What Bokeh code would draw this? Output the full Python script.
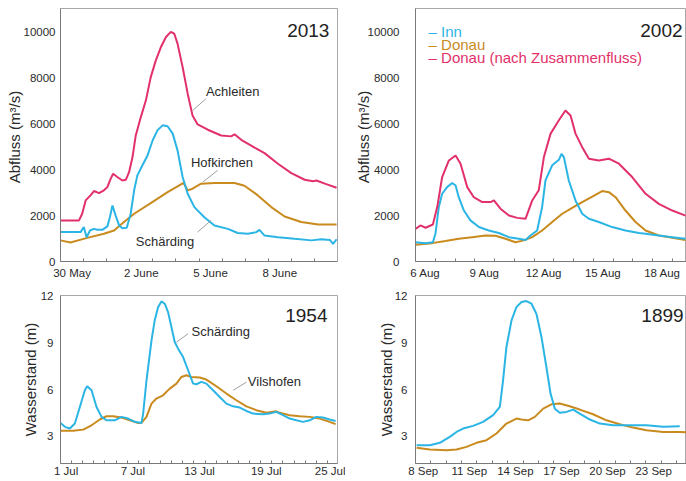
from bokeh.plotting import figure
from bokeh.models import Range1d, FixedTicker
from bokeh.layouts import row, column
from bokeh.core.properties import value
from bokeh.embed import file_html
from bokeh.resources import INLINE

FONT = "Liberation Sans"
RED = "#E2306A"
BLUE = "#2BB5E5"
GOLD = "#C98A1E"
TXT = "#2a2a2a"

# ---------------- 2013 (days since 30 May 00:00, discharge m3/s) ----------------
t13_achleiten = [0, 0.80, 0.94, 1.09, 1.30, 1.45, 1.67, 1.88, 2.03, 2.17, 2.28, 2.46, 2.68, 2.83, 2.97,
                 3.12, 3.26, 3.48, 3.70, 3.91, 4.13, 4.35, 4.57, 4.78, 4.93, 5.07, 5.29, 5.51, 5.72,
                 5.94, 6.38, 6.96, 7.39, 7.54, 7.83, 8.41, 8.84, 9.42, 10.00, 10.58, 10.94, 11.09,
                 11.45, 11.96]
q13_achleiten = [1790, 1790, 2080, 2660, 2880, 3070, 2980, 3100, 3240, 3600, 3820, 3680, 3530, 3560, 3890,
                 4550, 5490, 6290, 7020, 8030, 8760, 9340, 9780, 10000, 9920, 9490, 8470, 7310, 6360,
                 5970, 5740, 5490, 5450, 5540, 5300, 4960, 4720, 4260, 3850, 3560, 3500, 3530,
                 3390, 3210]
t13_schaerding = [0, 0.87, 1.01, 1.13, 1.28, 1.45, 1.59, 1.81, 2.03, 2.14, 2.25, 2.39, 2.54, 2.68, 2.87,
                  3.04, 3.19, 3.33, 3.55, 3.77, 3.99, 4.20, 4.42, 4.64, 4.86, 5.07, 5.29, 5.51, 5.80,
                  6.23, 6.67, 7.25, 7.68, 8.12, 8.48, 8.62, 8.84, 9.42, 10.14, 10.87, 11.30, 11.67,
                  11.81, 11.96]
q13_schaerding = [1280, 1280, 1500, 1060, 1350, 1420, 1380, 1380, 1530, 1930, 2440, 2000, 1570, 1450, 1470,
                  2080, 3100, 3750, 4190, 4620, 5270, 5710, 5930, 5890, 5570, 4840, 3680, 2950, 2370,
                  1930, 1570, 1420, 1240, 1210, 1280, 1380, 1130, 1060, 990, 920, 970, 940,
                  770, 970]
t13_hofkirchen = [0, 0.43, 1.16, 1.88, 2.32, 2.75, 3.19, 3.91, 4.64, 5.07, 5.33, 5.51, 5.72, 6.09, 6.67,
                  7.54, 7.97, 8.55, 9.13, 9.71, 10.43, 11.16, 11.96]
q13_hofkirchen = [920, 830, 1030, 1210, 1350, 1720, 2080, 2540, 3020, 3270, 3420, 3100, 3170, 3390, 3420,
                  3420, 3300, 2880, 2370, 1960, 1720, 1610, 1610]
ticks13 = [0.5, 3.5, 6.5, 9.5]
labels13 = ["30 May", "2 June", "5 June", "8 June"]

# ---------------- 2002 (days since 6 Aug 00:00) ----------------
t02_inn = [0, 0.51, 0.88, 1.01, 1.18, 1.35, 1.60, 1.86, 2.03, 2.19, 2.45, 2.78, 3.21, 3.71, 4.22, 4.73,
           5.23, 5.57, 5.82, 6.16, 6.41, 6.58, 6.92, 7.26, 7.39, 7.51, 7.76, 8.10, 8.44, 8.78, 9.28,
           9.96, 10.63, 11.31, 11.65, 12.32, 13.00, 13.67]
q02_inn = [840, 800, 840, 1210, 2370, 2950, 3240, 3420, 3310, 2800, 2220, 1790, 1500, 1350, 1240, 1060,
           990, 940, 1130, 1350, 2370, 3530, 4190, 4430, 4690, 4550, 3530, 2660, 2080, 1860, 1720,
           1500, 1350, 1240, 1210, 1130, 1060, 990]
t02_donau = [0, 0.84, 1.52, 2.19, 2.87, 3.54, 4.05, 4.56, 5.06, 5.49, 5.91, 6.41, 6.92, 7.43, 7.93, 8.44,
             8.95, 9.45, 9.79, 10.13, 10.63, 11.14, 11.65, 12.32, 13.00, 13.67]
q02_donau = [730, 800, 890, 990, 1060, 1130, 1120, 990, 840, 920, 1060, 1350, 1720, 2080, 2340, 2590,
             2830, 3070, 3020, 2800, 2220, 1720, 1350, 1130, 1030, 940]
t02_nach = [0, 0.25, 0.51, 0.88, 1.10, 1.35, 1.69, 2.03, 2.28, 2.62, 2.95, 3.38, 3.80, 3.97, 4.30, 4.73,
            5.15, 5.57, 5.91, 6.24, 6.50, 6.84, 7.26, 7.59, 7.85, 8.10, 8.44, 8.78, 9.28, 9.79, 10.30,
            10.97, 11.65, 12.32, 13.00, 13.67]
q02_nach = [1420, 1570, 1470, 1610, 2370, 3680, 4400, 4620, 4260, 3240, 2800, 2590, 2590, 2660, 2300, 2000,
            1900, 1860, 2660, 3100, 4550, 5570, 6150, 6580, 6360, 5570, 4980, 4480, 4400, 4480, 4260,
            3680, 2950, 2510, 2220, 2000]
ticks02 = [0.5, 3.5, 6.5, 9.5, 12.5]
labels02 = ["6 Aug", "9 Aug", "12 Aug", "15 Aug", "18 Aug"]

# ---------------- 1954 (days since 1 Jul 00:00, water level m) ----------------
t54_schaerding = [0, 0.40, 0.84, 1.29, 1.74, 2.19, 2.40, 2.79, 3.24, 3.69, 4.13, 4.88, 5.48, 6.08, 6.68,
                  7.28, 7.43, 7.73, 8.18, 8.47, 8.77, 9.07, 9.37, 9.67, 9.97, 10.27, 10.57, 11.02, 11.47,
                  11.92, 12.22, 12.66, 13.11, 13.71, 14.31, 14.91, 15.51, 16.11, 16.71, 17.31, 18.21,
                  18.80, 19.40, 20.00, 20.60, 21.20, 21.80, 22.40, 23.00, 23.59, 24.19, 24.73]
h54_schaerding = [3.86, 3.61, 3.50, 3.82, 4.89, 5.96, 6.22, 5.96, 4.89, 4.25, 4.03, 4.03, 4.25, 4.14, 3.93,
                  3.86, 4.46, 6.60, 9.17, 10.46, 11.31, 11.68, 11.53, 10.99, 10.03, 9.07, 8.64, 8.10, 7.25,
                  6.39, 6.35, 6.50, 6.39, 5.96, 5.53, 5.10, 4.93, 4.85, 4.63, 4.46, 4.42,
                  4.46, 4.57, 4.36, 4.14, 4.03, 3.93, 4.03, 4.25, 4.21, 4.08, 3.99]
t54_vilshofen = [0, 1.14, 2.04, 2.79, 3.53, 4.13, 4.73, 5.48, 6.23, 6.98, 7.28, 7.73, 8.18, 8.62, 9.22,
                 9.82, 10.42, 10.87, 11.32, 11.77, 12.52, 13.11, 14.01, 14.91, 15.81, 16.71, 17.61,
                 18.50, 19.40, 19.70, 20.60, 21.50, 22.40, 23.29, 24.19, 24.73]
h54_vilshofen = [3.35, 3.35, 3.43, 3.71, 4.08, 4.29, 4.29, 4.21, 4.03, 3.86, 3.86, 4.25, 5.10, 5.43, 5.64,
                 6.07, 6.39, 6.82, 6.93, 6.82, 6.78, 6.65, 6.22, 5.75, 5.32, 4.93, 4.68,
                 4.51, 4.61, 4.51, 4.36, 4.29, 4.25, 4.14, 3.93, 3.78]
ticks54 = [0.5, 6.5, 12.5, 18.5, 24.5]
labels54 = ["1 Jul", "7 Jul", "13 Jul", "19 Jul", "25 Jul"]

# ---------------- 1899 (days since 8 Sep 00:00) ----------------
t99_blue = [0.07, 0.93, 1.58, 2.23, 2.67, 3.10, 3.75, 4.40, 5.05, 5.49, 5.70, 5.92, 6.25, 6.57, 6.90,
            7.22, 7.55, 7.87, 8.20, 8.52, 8.79, 9.07, 9.39, 9.83, 10.26, 10.69, 11.35, 12.00, 12.86,
            13.95, 15.03, 16.12, 17.20]
h99_blue = [2.43, 2.43, 2.58, 2.96, 3.28, 3.50, 3.67, 3.93, 4.36, 4.89, 6.60, 8.75, 10.46, 11.31, 11.64,
            11.70, 11.53, 10.89, 9.39, 7.46, 5.75, 4.78, 4.51, 4.57, 4.72, 4.46, 4.08, 3.82, 3.71,
            3.71, 3.71, 3.61, 3.65]
t99_gold = [0.07, 0.93, 2.02, 2.67, 3.32, 3.97, 4.62, 5.27, 5.92, 6.57, 6.90, 7.33, 7.77, 8.31, 8.85,
            9.39, 10.04, 10.69, 11.56, 12.43, 13.30, 14.16, 15.03, 16.12, 17.20, 17.64]
h99_gold = [2.26, 2.15, 2.11, 2.15, 2.32, 2.58, 2.75, 3.18, 3.82, 4.14, 4.08, 4.03, 4.25, 4.78, 5.06,
            5.11, 4.93, 4.72, 4.42, 4.03, 3.78, 3.56, 3.39, 3.28, 3.28, 3.26]
ticks99 = [0.5, 3.5, 6.5, 9.5, 12.5, 15.5]
labels99 = ["8 Sep", "11 Sep", "14 Sep", "17 Sep", "20 Sep", "23 Sep"]

q_ticks = [0, 2000, 4000, 6000, 8000, 10000]
h_ticks = [3, 6, 9, 12]


def make_fig(width, height, xr, yr, bl, br, bt, bb, xticks, xlabels, ndays, yticks,
             ytitle, ylab_standoff, ytitle_standoff, xlab_standoff):
    p = figure(width=width, height=height, x_range=Range1d(*xr), y_range=Range1d(*yr),
               min_border_left=bl, min_border_right=br, min_border_top=bt, min_border_bottom=bb,
               output_backend="svg", toolbar_location=None)
    p.xgrid.visible = False
    p.ygrid.visible = False
    p.outline_line_color = "#a8a8a8"
    p.outline_line_width = 1
    p.background_fill_color = "white"
    p.border_fill_color = "white"
    xa = p.xaxis[0]
    xa.ticker = FixedTicker(ticks=xticks, minor_ticks=list(range(1, ndays + 1)))
    xa.major_label_overrides = {t: l for t, l in zip(xticks, xlabels)}
    xa.major_tick_in = 0
    xa.major_tick_out = 0
    xa.minor_tick_in = 3
    xa.minor_tick_out = 0
    xa.minor_tick_line_color = "#7a7a7a"
    xa.axis_line_color = "#7a7a7a"
    xa.major_label_text_font = FONT
    xa.major_label_text_font_size = "11.5px"
    xa.major_label_text_color = TXT
    xa.major_label_standoff = xlab_standoff
    ya = p.yaxis[0]
    ya.ticker = FixedTicker(ticks=yticks)
    ya.major_tick_in = 0
    ya.major_tick_out = 0
    ya.minor_tick_line_color = None
    ya.axis_line_color = "#7a7a7a"
    ya.major_label_text_font = FONT
    ya.major_label_text_font_size = "11.5px"
    ya.major_label_text_color = TXT
    ya.major_label_standoff = ylab_standoff
    ya.axis_label = ytitle
    ya.axis_label_text_font = FONT
    ya.axis_label_text_font_size = "15px"
    ya.axis_label_text_font_style = "normal"
    ya.axis_label_text_color = TXT
    ya.axis_label_standoff = ytitle_standoff
    return p


def year_label(p, x, y, txt):
    p.text(x=[x], y=[y], text=[txt], text_font=value(FONT), text_font_size="19px",
           text_color="#222222", text_align="right", text_baseline="middle")


def note(p, x, y, txt, lx0, ly0, lx1, ly1):
    p.segment(x0=[lx0], y0=[ly0], x1=[lx1], y1=[ly1], line_color="#a0a0a0", line_width=1)
    p.text(x=[x], y=[y], text=[txt], text_font=value(FONT), text_font_size="13px",
           text_color=TXT, text_align="left", text_baseline="middle")


# top-left: 2013
p1 = make_fig(345, 282, (0, 12), (0, 11020), 60, 8, 8, 21, ticks13, labels13, 11, q_ticks,
              "Abfluss  (m³/s)", 5, -2, 5)
p1.line(t13_hofkirchen, q13_hofkirchen, line_color=GOLD, line_width=2)
p1.line(t13_schaerding, q13_schaerding, line_color=BLUE, line_width=2)
p1.line(t13_achleiten, q13_achleiten, line_color=RED, line_width=2)
year_label(p1, 11.65, 10040, "2013")
note(p1, 6.30, 7410, "Achleiten", 5.73, 6580, 6.30, 7090)
note(p1, 5.65, 4300, "Hofkirchen", 6.16, 3460, 6.81, 3970)
note(p1, 3.26, 870, "Schärding", 5.94, 1280, 6.52, 1790)

# top-right: 2002
p2 = make_fig(341, 282, (0, 13.72), (0, 11020), 70, 0, 8, 21, ticks02, labels02, 13, q_ticks,
              "Abfluss  (m³/s)", 16, -7, 5)
p2.line(t02_donau, q02_donau, line_color=GOLD, line_width=2)
p2.line(t02_inn, q02_inn, line_color=BLUE, line_width=2)
p2.line(t02_nach, q02_nach, line_color=RED, line_width=2)
year_label(p2, 13.52, 10040, "2002")
legend_text = ["– Inn", "– Donau", "– Donau (nach Zusammenfluss)"]
legend_colors = [BLUE, GOLD, RED]
legend_y = [10030, 9460, 8870]
p2.text(x=[0.66] * 3, y=legend_y, text=legend_text, text_color=legend_colors,
        text_font=value(FONT), text_font_size="15px", text_align="left", text_baseline="middle")

# bottom-left: 1954
p3 = make_fig(345, 199, (0, 24.9), (1.25, 12.06), 60, 8, 13, 18, ticks54, labels54, 24, h_ticks,
              "Wasserstand (m)", 7, -1, 1)
p3.line(t54_vilshofen, h54_vilshofen, line_color=GOLD, line_width=2)
p3.line(t54_schaerding, h54_schaerding, line_color=BLUE, line_width=2)
year_label(p3, 24.0, 10.78, "1954")
note(p3, 11.78, 9.75, "Schärding", 10.43, 9.06, 11.47, 9.60)
note(p3, 16.84, 6.54, "Vilshofen", 15.52, 5.96, 16.72, 6.49)

# bottom-right: 1899
p4 = make_fig(341, 199, (0, 17.64), (1.25, 12.06), 70, 0, 13, 18, ticks99, labels99, 17, h_ticks,
              "Wasserstand (m)", 8, -3, 1)
p4.line(t99_gold, h99_gold, line_color=GOLD, line_width=2)
p4.line(t99_blue, h99_blue, line_color=BLUE, line_width=2)
year_label(p4, 17.45, 10.78, "1899")

layout = column(row(p1, p2), row(p3, p4))
open("out.html", "w").write(file_html(layout, INLINE))
